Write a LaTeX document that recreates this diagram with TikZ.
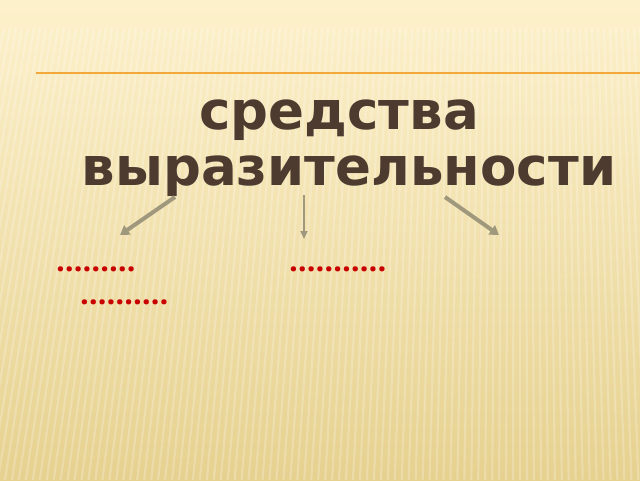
\documentclass[tikz,border=0pt]{standalone}
\usepackage{fontspec}
\setmainfont{DejaVu Sans}
\newfontfamily\dotfont{Open Sans}
\usetikzlibrary{arrows.meta}
\definecolor{bgtop}{RGB}{253,241,204}
\definecolor{bgmid}{RGB}{251,235,189}
\definecolor{bgbot}{RGB}{230,209,143}
\definecolor{rulec}{RGB}{242,168,58}
\definecolor{titlec}{RGB}{77,59,48}
\definecolor{arrowc}{RGB}{160,152,124}
\definecolor{dotc}{RGB}{200,0,0}
\begin{document}
\begin{tikzpicture}[x=1pt,y=-1pt,
  title/.style={font=\fontsize{53}{60}\selectfont\bfseries, text=titlec, inner sep=0pt, anchor=base},
  dotline/.style={font=\dotfont\fontsize{31}{34}\selectfont\bfseries, text=dotc, inner sep=0pt, anchor=base west},
  link/.style={draw=arrowc, line width=4pt, -{Triangle[length=9pt,width=11pt]}},
  thinlink/.style={draw=arrowc, line width=2pt, -{Triangle[length=8pt,width=7pt]}},
  stripe/.style={draw=white, opacity=0.22, line width=2.2pt}]
\useasboundingbox (0,0) rectangle (640,480);
\shade[top color=bgtop, middle color=bgmid, bottom color=bgbot] (0,0) rectangle (640,480);
\begin{scope}
  \clip (0,28) rectangle (640,480);
  \foreach \i in {0,...,115}{
    \pgfmathsetmacro\xa{\i*6-20}
    \pgfmathsetmacro\xb{\xa-0.16*(520-\xa)}
    \draw[stripe] (\xa,28) -- (\xb,480);
  }
\end{scope}
\coordinate (r1) at (36,73);
\coordinate (r2) at (640,73);
\draw[rulec, line width=1.6pt] (r1) -- (r2);
\node[title] (t1) at (339,129) {средства};
\node[title] (t2) at (349,185) {выразительности};
\coordinate (l1) at (175,197);
\coordinate (l2) at (120,235);
\coordinate (m1) at (304,195);
\coordinate (m2) at (304,239);
\coordinate (q1) at (445,197);
\coordinate (q2) at (499,235);
\draw[link] (l1) -- (l2);
\draw[thinlink] (m1) -- (m2);
\draw[link] (q1) -- (q2);
\node[dotline] (d1) at (56,271) {………};
\node[dotline] (d2) at (289,271) {………..};
\node[dotline] (d3) at (80,304) {……….};
\end{tikzpicture}
\end{document}
